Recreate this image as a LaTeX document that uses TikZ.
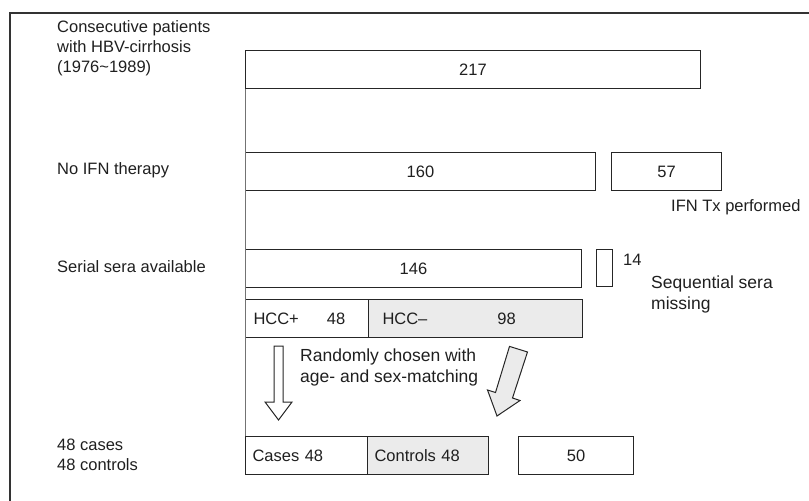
\documentclass[tikz,border=0pt]{standalone}
\usepackage{fontspec}
\setmainfont{Liberation Sans}
\begin{document}
\begin{tikzpicture}[x=1bp,y=-1bp,
  every node/.style={font=\fontsize{16.5bp}{20bp}\selectfont, text=black!88},
  notefont/.style={font=\fontsize{17.5bp}{21bp}\selectfont},
  countbox/.style={draw=black!85, line width=1bp, inner sep=0pt,
                   minimum height=38bp, anchor=north west},
  greybox/.style={countbox, fill=black!8},
  leftlabel/.style={anchor=west, inner sep=0pt, align=left},
  hollowarrow/.style={draw=black!85, line width=1bp, fill=white, line join=miter},
  greyarrow/.style={draw=black!85, line width=1bp, fill=black!8, line join=miter},
  frameline/.style={draw=black!80, line width=1.3bp},
  guide/.style={draw=black!55, line width=0.5bp}]

\useasboundingbox (0,0) rectangle (809,501);

% open frame: top and left edges
\draw[frameline] (809,13) -- (10,13) -- (10,501);

% row labels
\node[leftlabel] (lcons) at (57,48) {Consecutive patients\\with HBV-cirrhosis\\(1976\textasciitilde1989)};
\node[leftlabel] (lnoifn) at (57,170) {No IFN therapy};
\node[leftlabel] (lserial) at (57,267) {Serial sera available};
\node[leftlabel] (lcases) at (57,455) {48 cases\\48 controls};

% count boxes
\node[countbox, minimum width=455bp] (n217) at (245,50) {217};
\node[countbox, minimum width=350bp] (n160) at (245,152) {160};
\node[countbox, minimum width=110bp] (n57) at (611,152) {57};
\node[countbox, minimum width=336bp] (n146) at (245,249) {146};
\node[countbox, minimum width=16bp, minimum height=37bp] (n14) at (596,249) {};

\node[countbox, minimum width=123bp, text width=107bp, inner xsep=8bp, align=left]
  (hccpos) at (245,299) {HCC+\hspace{28bp}48};
\node[greybox, minimum width=214bp, text width=186bp, inner xsep=14bp, align=left]
  (hccneg) at (368,299) {HCC–\hspace{70bp}98};

\node[countbox, minimum width=122bp, text width=108bp, inner xsep=7bp, align=left]
  (cases) at (245,436) {Cases 48};
\node[greybox, minimum width=121bp, text width=107bp, inner xsep=7bp, align=left]
  (controls) at (367,436) {Controls 48};
\node[countbox, minimum width=115bp] (n50) at (518,436) {50};

% side notes
\node[leftlabel] (ifntx) at (671,207) {IFN Tx performed};
\node[leftlabel] (l14) at (623,260) {14};
\node[leftlabel, notefont] (lmiss) at (651,294) {Sequential sera\\missing};
\node[leftlabel, notefont] (lrandom) at (300,367) {Randomly chosen with\\age- and sex-matching};

% thin guide along the left edges of the boxes
\draw[guide] (n217.south west) -- (cases.north west);

% block arrows towards cases and controls
\draw[hollowarrow] (274,346) -- (283,346) -- (283,402) -- (292,402)
  -- (278.5,420) -- (265,402) -- (274,402) -- cycle;
\draw[greyarrow] (509.5,346.4) -- (527.5,352.0) -- (512.5,398.0) -- (520.0,400.5)
  -- (497,416) -- (487.5,390.0) -- (495.5,392.5) -- cycle;

\end{tikzpicture}
\end{document}
